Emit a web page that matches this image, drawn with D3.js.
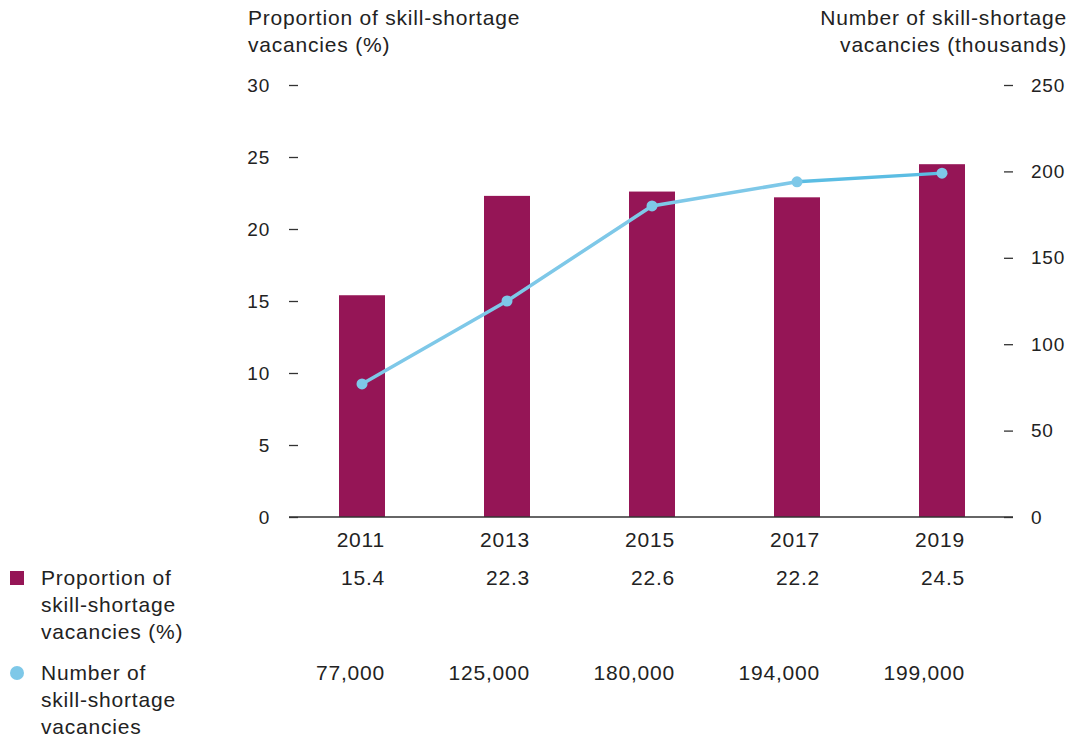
<!DOCTYPE html>
<html>
<head>
<meta charset="utf-8">
<script src="https://cdnjs.cloudflare.com/ajax/libs/d3/7.8.5/d3.min.js"></script>
<style>
  body { margin: 0; background: #fff; }
  svg text { font-family: "Liberation Sans", Arial, sans-serif; fill: #222; font-size: 21px; letter-spacing: 0.8px; }
</style>
</head>
<body>
<div id="chart"></div>
<script>
var years = ["2011", "2013", "2015", "2017", "2019"];
var proportion = [15.4, 22.3, 22.6, 22.2, 24.5];
var vacancies = [77, 125, 180, 194, 199]; // thousands
var vacancyLabels = ["77,000", "125,000", "180,000", "194,000", "199,000"];
var leftTicks = [0, 5, 10, 15, 20, 25, 30];
var rightTicks = [0, 50, 100, 150, 200, 250];

var W = 1085, H = 740;
var svg = d3.select("#chart").append("svg")
    .attr("width", W).attr("height", H);

var x = d3.scalePoint().domain(years).range([362, 942]);
var yL = d3.scaleLinear().domain([0, 30]).range([517, 85]);
var yR = d3.scaleLinear().domain([0, 250]).range([517, 85]);
var barW = 46;
var barColor = "#951556", lineColor = "#7ec8e8";

// axis titles
svg.append("text").attr("x", 248).attr("y", 25).text("Proportion of skill-shortage");
svg.append("text").attr("x", 248).attr("y", 52).text("vacancies (%)");
svg.append("text").attr("x", 1067).attr("y", 25).attr("text-anchor", "end").text("Number of skill-shortage");
svg.append("text").attr("x", 1067).attr("y", 52).attr("text-anchor", "end").text("vacancies (thousands)");

// left axis
var la = svg.append("g").attr("transform", "translate(298,0)")
    .call(d3.axisLeft(yL).tickValues(leftTicks).tickSize(9).tickPadding(19));
la.select(".domain").remove();
la.selectAll("line").attr("stroke", "#333").attr("stroke-width", 1.3);
la.selectAll("text").attr("font-size", null).style("font-size", "19px").attr("fill", null).attr("font-family", null);

// right axis
var ra = svg.append("g").attr("transform", "translate(1004,0)")
    .call(d3.axisRight(yR).tickValues(rightTicks).tickSize(9).tickPadding(18));
ra.select(".domain").remove();
ra.selectAll("line").attr("stroke", "#333").attr("stroke-width", 1.3);
ra.selectAll("text").attr("font-size", null).style("font-size", "19px").attr("fill", null).attr("font-family", null);

// bars
svg.selectAll("rect.bar").data(proportion).enter().append("rect")
    .attr("class", "bar")
    .attr("x", function (d, i) { return x(years[i]) - barW / 2; })
    .attr("y", function (d) { return yL(d); })
    .attr("width", barW)
    .attr("height", function (d) { return yL(0) - yL(d); })
    .attr("fill", barColor);

// baseline
svg.append("line").attr("x1", 289).attr("x2", 1013)
    .attr("y1", yL(0)).attr("y2", yL(0))
    .attr("stroke", "#333").attr("stroke-width", 1.5);

// line
var pts = vacancies.map(function (d, i) { return [x(years[i]), yR(d)]; });
svg.append("path").datum(pts.slice(0, 4))
    .attr("d", d3.line())
    .attr("fill", "none").attr("stroke", lineColor).attr("stroke-width", 3.5);
svg.append("path").datum(pts.slice(3))
    .attr("d", d3.line())
    .attr("fill", "none").attr("stroke", "#5bbde3").attr("stroke-width", 3.5);
svg.selectAll("circle.pt").data(pts).enter().append("circle")
    .attr("class", "pt")
    .attr("cx", function (d) { return d[0]; })
    .attr("cy", function (d) { return d[1]; })
    .attr("r", 5.5).attr("fill", lineColor);

// table rows
function row(vals, y) {
    svg.selectAll(null).data(vals).enter().append("text")
        .attr("x", function (d, i) { return x(years[i]) + 23; })
        .attr("y", y)
        .attr("text-anchor", "end")
        .text(function (d) { return d; });
}
row(years, 547);
row(proportion.map(function (d) { return d.toFixed(1); }), 585);
row(vacancyLabels, 680);

// legend
svg.append("rect").attr("x", 10).attr("y", 571).attr("width", 14).attr("height", 14).attr("fill", barColor);
["Proportion of", "skill-shortage", "vacancies (%)"].forEach(function (t, i) {
    svg.append("text").attr("x", 41).attr("y", 585 + i * 27).text(t);
});
svg.append("circle").attr("cx", 17).attr("cy", 673).attr("r", 7).attr("fill", lineColor);
["Number of", "skill-shortage", "vacancies"].forEach(function (t, i) {
    svg.append("text").attr("x", 41).attr("y", 680 + i * 27).text(t);
});
</script>
</body>
</html>
